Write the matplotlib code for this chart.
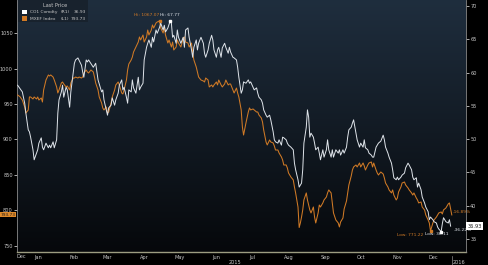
import numpy as np
import pandas as pd
import matplotlib
matplotlib.use("Agg")
import matplotlib.pyplot as plt
import matplotlib.dates as mdates
from matplotlib.patches import Rectangle

# ---------------- data (days since 2015-01-01) ----------------
co1_days = [-3, 1, 3, 4, 6, 7, 8, 10, 11, 13, 14, 15, 17, 18, 19, 21, 23, 24, 25, 27, 28, 30, 31, 32, 34, 35, 36, 38, 39, 41,
            42, 44, 45, 46, 48, 51, 52, 53, 55, 56, 57, 61, 63, 65, 68, 69, 70, 72, 73, 74, 76, 77, 79, 80, 82, 83, 85, 86, 87, 89,
            90, 91, 93, 94, 95, 97, 99, 100, 101, 103, 104, 106, 107, 108, 110, 111, 112, 114, 115, 117, 118, 120, 121, 122, 124,
            126, 127, 128, 129, 131, 132, 133, 135, 137, 138, 139, 141, 142, 144, 145, 146, 148, 149, 150, 152, 154, 155, 156, 158,
            159, 161, 162, 163, 165, 166, 167, 169, 170, 172, 173, 175, 176, 177, 179, 180, 182, 183, 184, 186, 187, 188, 190, 192,
            193, 194, 196, 197, 199, 200, 201, 203, 204, 205, 207, 208, 210, 211, 213, 214, 215, 217, 218, 220, 221, 222, 224, 225,
            226, 228, 230, 231, 232, 234, 235, 237, 238, 239, 241, 242, 243, 244, 245, 247, 248, 249, 251, 252, 253, 255, 256, 258,
            259, 260, 262, 263, 264, 266, 268, 269, 270, 272, 273, 275, 276, 277, 279, 280, 281, 283, 284, 286, 287, 289, 290, 291,
            293, 294, 296, 297, 298, 300, 301, 302, 304, 306, 307, 308, 310, 311, 313, 314, 315, 317, 318, 319, 321, 322, 324, 325,
            327, 328, 330, 331, 332, 334, 335, 336, 338, 339, 341, 342, 344, 345, 346, 348, 349, 351, 352, 353, 355, 356, 357, 359,
            361, 362, 363]
co1_vals = [58.1, 57.1, 55.4, 53.9, 51.4, 51.1, 50.3, 48.4, 46.9, 47.9, 48.4, 49.4, 50.2, 48.8, 48.4, 49.4, 48.7, 49.1, 48.7, 49.6,
            48.7, 49.9, 53.9, 55.9, 57.1, 58.1, 56.3, 57.8, 57.4, 54.8, 57.1, 59.9, 61.4, 61.9, 62.2, 61.1, 60.1, 59.3, 61.9, 61.6,
            61.9, 60.8, 61.4, 58.9, 57.1, 57.4, 55.9, 54.4, 53.6, 54.7, 55.1, 56.2, 55.1, 55.9, 56.9, 58.1, 58.9, 57.4, 57.8, 56.3,
            55.4, 57.4, 57.1, 58.9, 57.7, 56.9, 59.3, 57.4, 57.8, 58.4, 61.9, 63.8, 64.4, 64.9, 63.8, 65.3, 64.6, 66.4, 65.9, 66.8,
            67.4, 66.4, 67.1, 66.1, 66.7, 67.77, 67.4, 65.3, 65.6, 64.4, 66.4, 65.3, 64.4, 65.3, 63.8, 66.4, 66.7, 65.3, 63.4, 62.3,
            63.8, 64.9, 63.4, 64.4, 65.3, 64.4, 62.9, 62.3, 63.4, 64.4, 65.6, 64.9, 63.4, 62.3, 63.4, 63.8, 62.3, 63.7, 64.4, 63.8,
            62.9, 63.8, 63.1, 62.3, 62.2, 61.9, 60.8, 59.3, 56.9, 57.4, 58.6, 58.4, 58.9, 58.4, 58.6, 57.8, 57.4, 57.7, 56.9, 56.3,
            55.9, 55.4, 54.4, 53.6, 53.3, 53.6, 52.9, 51.1, 49.9, 49.6, 49.4, 49.9, 49.1, 50.3, 50.2, 49.9, 49.4, 49.1, 48.8, 48.4,
            46.4, 45.4, 43.9, 42.8, 43.4, 45.4, 49.4, 51.8, 54.4, 53.3, 50.3, 50.9, 50.3, 49.4, 48.4, 48.8, 47.9, 46.9, 48.4, 47.3,
            48.4, 49.9, 48.4, 47.3, 48.4, 47.3, 48.4, 47.9, 48.4, 47.6, 48.4, 47.9, 48.8, 50.3, 51.4, 51.8, 52.4, 52.9, 50.9, 49.9,
            48.8, 49.4, 48.8, 49.9, 48.7, 48.4, 47.9, 47.6, 47.3, 47.3, 48.8, 49.1, 49.4, 49.7, 50.6, 49.9, 48.8, 47.9, 47.3, 46.4,
            45.4, 44.2, 43.9, 44.3, 43.9, 44.3, 44.6, 44.9, 45.7, 46.4, 46.1, 45.4, 44.3, 43.9, 44.2, 42.8, 43.4, 42.4, 41.3, 40.4,
            39.8, 39.1, 37.9, 38.3, 37.9, 37.6, 37.4, 36.8, 36.5, 36.11, 37.3, 38.2, 37.6, 37.4, 37.9, 36.93]

mxef_days = [-3, -1, 1, 3, 4, 6, 7, 8, 10, 11, 13, 14, 15, 17, 18, 19, 21, 23, 24, 25, 27, 28, 30, 31, 32, 34, 35, 36, 38, 39,
             41, 42, 44, 45, 46, 48, 49, 51, 52, 53, 55, 56, 57, 59, 61, 62, 63, 65, 66, 68, 69, 70, 72, 73, 74, 76, 77, 79, 80, 82,
             83, 85, 86, 87, 89, 90, 91, 93, 94, 95, 97, 99, 100, 101, 103, 104, 106, 107, 108, 110, 111, 112, 114, 115, 117, 118,
             120, 121, 122, 124, 125, 127, 128, 129, 131, 132, 133, 135, 137, 138, 139, 141, 142, 144, 145, 146, 148, 149, 150, 152,
             154, 155, 156, 158, 159, 161, 162, 163, 165, 166, 167, 169, 170, 172, 173, 175, 176, 177, 179, 180, 182, 183, 184, 186,
             187, 188, 190, 192, 193, 194, 196, 197, 199, 200, 201, 203, 204, 205, 207, 208, 210, 211, 213, 214, 215, 217, 218, 220,
             221, 222, 224, 225, 226, 228, 230, 231, 232, 234, 235, 236, 237, 238, 239, 241, 242, 244, 245, 247, 248, 249, 251, 252,
             253, 255, 256, 258, 259, 260, 262, 263, 264, 266, 268, 269, 270, 272, 273, 275, 276, 277, 279, 280, 281, 283, 284, 286,
             287, 289, 290, 291, 293, 294, 296, 297, 298, 300, 301, 302, 304, 306, 307, 308, 310, 311, 313, 314, 315, 317, 318, 319,
             321, 322, 324, 325, 327, 328, 330, 331, 332, 334, 335, 336, 338, 339, 341, 342, 344, 345, 346, 348, 349, 351, 352, 353,
             355, 356, 357, 359, 361, 362, 364]
mxef_vals = [962.7, 960.3, 955.6, 945.8, 937.3, 941.6, 959.9, 959.9, 957.1, 959.9, 957.1, 959.9, 955.6, 958.5, 952.8, 969.7,
             983.8, 990.9, 989.4, 990.9, 988.0, 983.8, 974.0, 965.5, 969.7, 979.6, 981.0, 978.2, 974.0, 975.4, 969.7, 979.6, 986.6,
             986.6, 988.0, 986.6, 988.0, 986.6, 988.0, 993.7, 997.9, 995.1, 993.7, 997.9, 995.1, 988.0, 979.6, 969.7, 959.9, 951.4,
             944.4, 941.6, 945.8, 937.3, 938.7, 951.4, 959.9, 969.7, 976.8, 981.0, 976.8, 965.5, 964.1, 969.7, 983.8, 997.9, 1006.3,
             1012.0, 1016.2, 1023.2, 1030.3, 1037.3, 1044.4, 1040.2, 1047.2, 1037.3, 1044.4, 1054.2, 1047.2, 1054.2, 1061.3, 1057.0,
             1064.1, 1065.5, 1067.07, 1057.0, 1050.0, 1058.5, 1047.2, 1035.9, 1040.2, 1030.3, 1037.3, 1026.1, 1030.3, 1040.2, 1035.9,
             1030.3, 1043.0, 1044.4, 1037.3, 1035.9, 1030.3, 1035.9, 1021.8, 1012.0, 1002.1, 995.1, 988.0, 983.8, 982.4, 981.0,
             986.6, 983.8, 974.0, 976.8, 974.0, 976.8, 981.0, 976.8, 983.8, 976.8, 974.0, 978.2, 983.8, 976.8, 978.2, 978.2, 969.7,
             965.5, 972.5, 965.5, 959.9, 941.6, 917.6, 906.3, 923.2, 938.7, 944.4, 941.6, 943.0, 941.6, 938.7, 938.7, 934.5, 930.3,
             924.7, 913.4, 896.5, 892.3, 899.3, 896.5, 895.1, 890.9, 885.2, 885.2, 881.0, 875.4, 871.1, 864.1, 864.1, 859.9, 852.8,
             847.2, 843.0, 833.1, 824.7, 804.9, 776.0, 782.4, 790.8, 800.7, 814.8, 824.7, 814.8, 800.7, 796.5, 804.9, 790.8, 782.4,
             796.5, 807.7, 804.9, 810.6, 814.8, 819.0, 824.7, 828.9, 824.7, 810.6, 796.5, 786.6, 782.4, 776.8, 783.8, 789.4, 802.1,
             813.4, 824.7, 835.9, 848.6, 857.0, 861.3, 864.1, 861.3, 866.9, 861.3, 866.9, 862.7, 857.0, 864.1, 866.9, 868.3, 861.3,
             866.9, 857.0, 852.8, 850.0, 854.2, 851.4, 845.8, 838.7, 833.1, 828.9, 824.7, 828.9, 821.8, 814.8, 817.6, 826.1, 833.1,
             838.7, 840.1, 835.9, 831.7, 828.9, 824.7, 821.8, 824.7, 817.6, 814.8, 810.6, 812.0, 804.9, 800.7, 793.7, 786.6, 782.4,
             771.22, 782.4, 786.6, 790.8, 793.7, 796.5, 797.9, 795.1, 800.7, 803.5, 809.2, 810.6, 793.73]

month_labels = ["Jan", "Feb", "Mar", "Apr", "May", "Jun", "Jul", "Aug", "Sep", "Oct", "Nov", "Dec"]
left_ticks = [750, 800, 850, 900, 950, 1000, 1050]
right_ticks = [35, 40, 45, 50, 55, 60, 65, 70]
pct_labels = ["-16.89%", "-36.22%"]   # MXEF, CO1 change labels as shown

# ---------------- styling ----------------
ORANGE = "#d07a26"
WHITE = "#dfe4ea"
TXT = "#c8c8c8"
FS = 3.6

base = pd.Timestamp("2015-01-01")
co1_dates = base + pd.to_timedelta(co1_days, unit="D")
mxef_dates = base + pd.to_timedelta(mxef_days, unit="D")

fig = plt.figure(figsize=(4.88, 2.65), dpi=100, facecolor="black")
ax = fig.add_axes([17 / 488, 13 / 265, (466 - 17) / 488, 252 / 265])
ax2 = ax.twinx()

xmin = mdates.date2num(pd.Timestamp("2014-12-28 12:00"))
xmax = mdates.date2num(pd.Timestamp("2016-01-12"))
y0, y1 = 741.5, 1096.5

# background gradient
top = np.array([31, 46, 62]) / 255
bot = np.array([6, 8, 11]) / 255
t = np.linspace(0, 1, 256)[:, None]
grad = top[None, :] * (1 - t) + bot[None, :] * t
grad = np.repeat(grad[:, None, :], 2, axis=1)
ax.imshow(grad, extent=[xmin, xmax, y0, y1], aspect="auto", zorder=0, interpolation="bilinear")

ax.plot(mxef_dates, mxef_vals, color=ORANGE, lw=0.75, zorder=3)
ax2.plot(co1_dates, co1_vals, color=WHITE, lw=0.7, zorder=3)

ax.set_xlim(xmin, xmax)
ax.set_ylim(y0, y1)
ax2.set_ylim(33.05, 70.9)

for a in (ax, ax2):
    a.set_facecolor("none")
    for s in a.spines.values():
        s.set_visible(False)

ax.spines["left"].set_visible(True)
ax.spines["left"].set_color("#8a8a8a")
ax.spines["left"].set_linewidth(0.6)
ax2.spines["right"].set_visible(True)
ax2.spines["right"].set_color("#8a8a8a")
ax2.spines["right"].set_linewidth(0.6)
ax.spines["bottom"].set_visible(True)
ax.spines["bottom"].set_color("#9c9c80")
ax.spines["bottom"].set_linewidth(1.0)

ax.set_yticks(left_ticks)
ax.set_yticklabels([str(v) for v in left_ticks])
ax.tick_params(axis="y", colors=TXT, labelsize=FS, length=2, width=0.6, pad=1, direction="out")
ax2.set_yticks(right_ticks)
ax2.set_yticklabels([str(v) for v in right_ticks])
ax2.tick_params(axis="y", colors=TXT, labelsize=FS, length=2, width=0.6, pad=1, direction="out")

# x ticks: month starts (marks) and mid-month labels
month_starts = pd.date_range("2015-01-01", "2016-01-01", freq="MS")
mids = pd.date_range("2015-01-01", "2015-12-01", freq="MS") + pd.Timedelta(days=14)
ax.set_xticks(month_starts)
ax.set_xticklabels([])
ax.set_xticks(mids, minor=True)
ax.set_xticklabels(month_labels, minor=True)
ax.tick_params(axis="x", which="major", length=1.5, width=0.5, colors="#9c9c80", direction="out")
ax.tick_params(axis="x", which="minor", length=0, colors=TXT, labelsize=FS, pad=2)
ax2.set_xticks([])

# first partial month label and year labels
fig.text(21 / 488, 1 - 257 / 265, "Dec", color=TXT, fontsize=FS, ha="center", va="center")
fig.text(235 / 488, 1 - 263 / 265, "2015", color=TXT, fontsize=FS, ha="center", va="center")
fig.text(459 / 488, 1 - 263 / 265, "2016", color=TXT, fontsize=FS, ha="center", va="center")
fig.add_artist(plt.Line2D([452 / 488, 452 / 488], [0, 1 - 256 / 265], color="#8a8a8a", lw=0.5))

# high / low markers and labels
hi_o = int(np.argmax(mxef_vals)); lo_o = int(np.argmin(mxef_vals))
hi_w = int(np.argmax(co1_vals)); lo_w = int(np.argmin(co1_vals))
ax.plot(mxef_dates[hi_o], mxef_vals[hi_o], "s", ms=1.8, color=ORANGE, zorder=5)
ax.plot(mxef_dates[lo_o], mxef_vals[lo_o], "s", ms=1.8, color=ORANGE, zorder=5)
ax2.plot(co1_dates[hi_w], co1_vals[hi_w], "s", ms=1.8, color="white", zorder=5)
ax2.plot(co1_dates[lo_w], co1_vals[lo_w], "s", ms=1.8, color="white", zorder=5)

SFS = FS - 0.4
ax.annotate(f"Hi: {mxef_vals[hi_o]:.2f}", (mxef_dates[hi_o], mxef_vals[hi_o]), xytext=(0, 2.5),
            textcoords="offset points", ha="right", va="bottom", color=ORANGE, fontsize=SFS, zorder=6)
ax2.annotate(f"Hi: {co1_vals[hi_w]:.2f}", (co1_dates[hi_w], co1_vals[hi_w]), xytext=(-7, 2.5),
             textcoords="offset points", ha="left", va="bottom", color=WHITE, fontsize=SFS, zorder=6)
ax.annotate(f"Low: {mxef_vals[lo_o]:.2f}", (mxef_dates[lo_o], mxef_vals[lo_o]), xytext=(-5.5, -1.5),
            textcoords="offset points", ha="right", va="top", color=ORANGE, fontsize=SFS, zorder=6)
ax2.annotate(f"Low: {co1_vals[lo_w]:.2f}", (co1_dates[lo_w], co1_vals[lo_w]), xytext=(-11.5, -0.5),
             textcoords="offset points", ha="left", va="top", color=WHITE, fontsize=SFS, zorder=6)

# percent changes at the ends
ax.annotate(pct_labels[0], (mxef_dates[-1], mxef_vals[-1]), xytext=(0.5, 2), textcoords="offset points",
            ha="left", va="center", color=ORANGE, fontsize=SFS, zorder=6)
ax2.annotate(pct_labels[1], (co1_dates[-1], co1_vals[-1]), xytext=(2, -2.5), textcoords="offset points",
             ha="left", va="center", color=WHITE, fontsize=SFS, zorder=6)

# last value boxes on the axes
ax.annotate(f"{mxef_vals[-1]:.2f}", (0, mxef_vals[-1]), xycoords=("axes fraction", "data"), xytext=(-0.8, 0),
            textcoords="offset points", ha="right", va="center", color="#1a1a1a", fontsize=FS - 0.5,
            bbox=dict(boxstyle="square,pad=0.12", fc="#e08a2a", ec="none"), zorder=7, annotation_clip=False)
ax2.annotate(f"{co1_vals[-1]:.2f}", (1, co1_vals[-1]), xycoords=("axes fraction", "data"), xytext=(1, 0),
             textcoords="offset points", ha="left", va="center", color="#1a1a1a", fontsize=FS,
             bbox=dict(boxstyle="square,pad=0.25", fc="white", ec="none"), zorder=7, annotation_clip=False)

# legend box
W, H = 488, 265
fig.patches.append(Rectangle((18 / W, 1 - 22 / H), 70 / W, 22 / H, transform=fig.transFigure,
                             facecolor="#18222d", edgecolor="none", zorder=10))
fig.text(55 / W, 1 - 5.5 / H, "Last Price", color=TXT, fontsize=FS, ha="center", va="center", zorder=11)
rows = [("CO1 Comdty", "(R1)", f"{co1_vals[-1]:.2f}", "white"),
        ("MXEF Index", "(L1)", f"{mxef_vals[-1]:.2f}", ORANGE)]
for i, (nm, side, val, col) in enumerate(rows):
    yy = 1 - (12 + 6.5 * i) / H
    fig.patches.append(Rectangle((22 / W, yy - 2.3 / H), 5 / W, 4.6 / H, transform=fig.transFigure,
                                 facecolor=col, edgecolor="none", zorder=11))
    fig.text(30 / W, yy, nm, color=TXT, fontsize=SFS, ha="left", va="center", zorder=11)
    fig.text(61 / W, yy, side, color=TXT, fontsize=SFS, ha="left", va="center", zorder=11)
    fig.text(86 / W, yy, val, color=TXT, fontsize=SFS, ha="right", va="center", zorder=11)

fig.savefig("out.png", dpi=100, facecolor="black")
